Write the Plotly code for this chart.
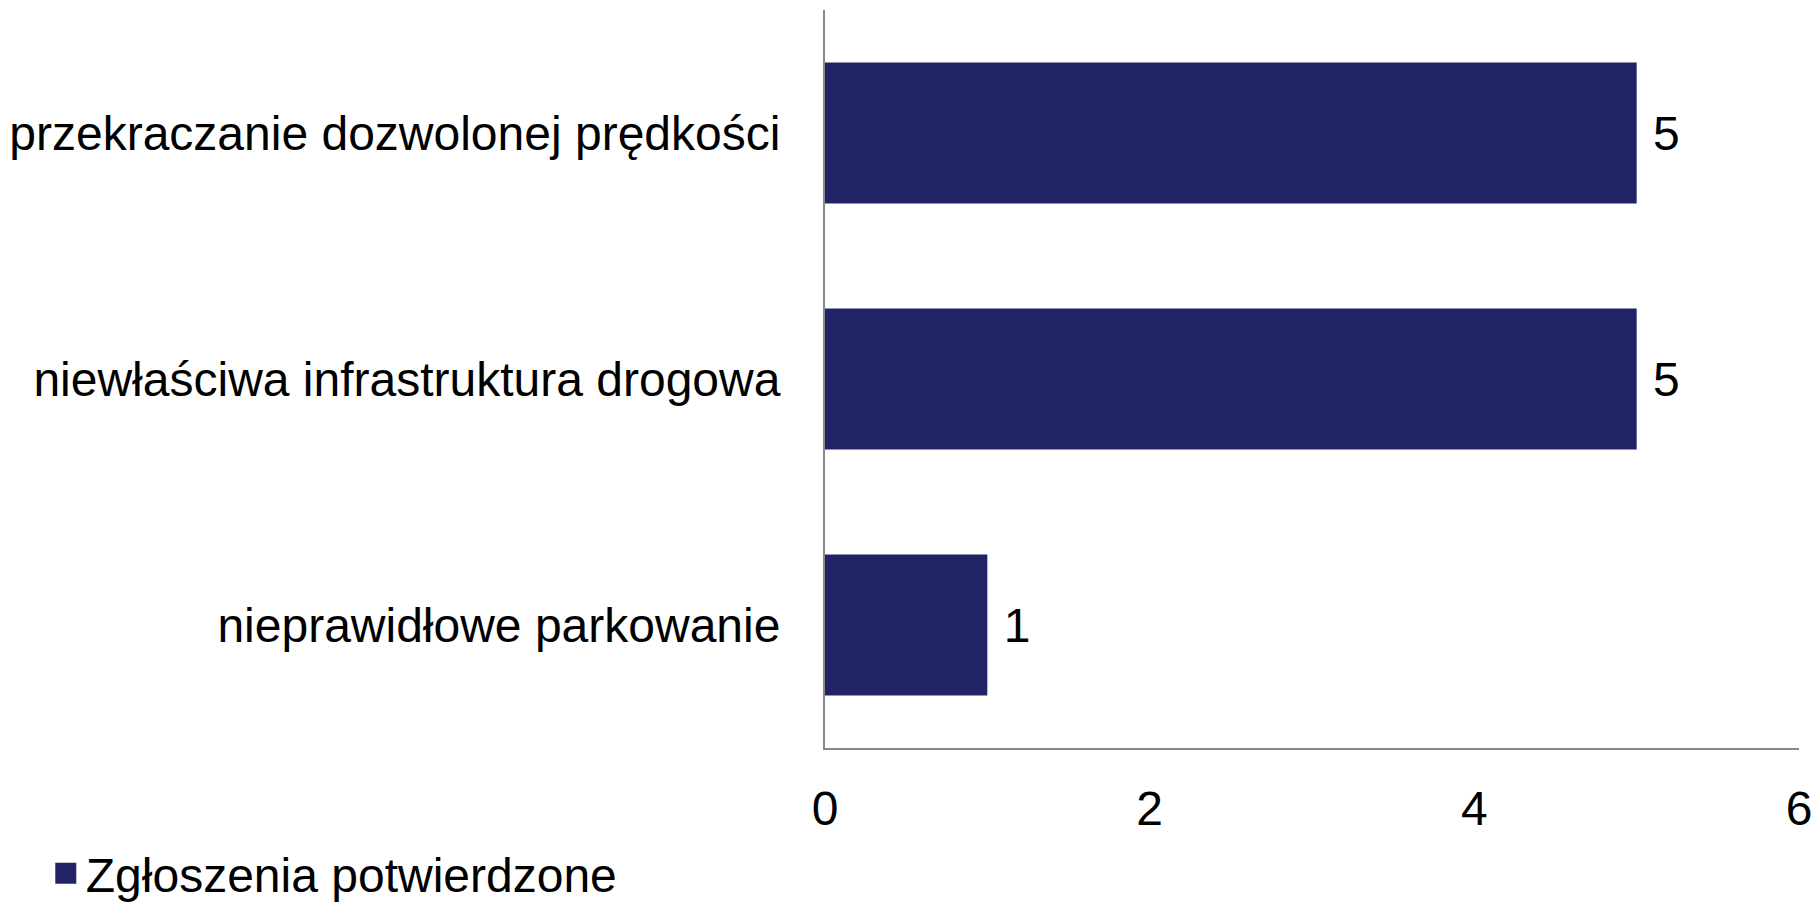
import plotly.graph_objects as go

categories = ["nieprawidłowe parkowanie", "niewłaściwa infrastruktura drogowa", "przekraczanie dozwolonej prędkości"]
values = [1, 5, 5]
series_name = "Zgłoszenia potwierdzone"
x_ticks = [0, 2, 4, 6]

W, H = 1816, 905
L, R, T, B = 825, 17, 10, 157
FONT = "Liberation Sans, Arial, sans-serif"
FS = 48
BAR = "#222266"
AX = "#898989"

fig = go.Figure()
fig.add_trace(go.Bar(
    y=categories, x=values, orientation="h", name=series_name,
    marker=dict(color=BAR, line=dict(width=0)),
    text=values, textposition="outside", cliponaxis=False,
    textfont=dict(family=FONT, size=FS, color="#000000"),
    texttemplate=" %{x}", showlegend=False,
))
# legend entry (larger square symbol than the default bar icon)
fig.add_trace(go.Scatter(
    x=[None], y=[None], mode="markers", name=series_name,
    marker=dict(symbol="square", size=16, color=BAR, line=dict(width=5, color=BAR)),
    showlegend=True, hoverinfo="skip",
))

fig.update_layout(
    width=W, height=H,
    margin=dict(l=L, r=R, t=T, b=B, pad=0, autoexpand=False),
    paper_bgcolor="white", plot_bgcolor="white",
    font=dict(family=FONT, size=FS, color="#000000"),
    bargap=0.427,
    showlegend=True,
    legend=dict(orientation="h", x=-0.800, xanchor="left", y=-0.170, yanchor="middle",
                itemsizing="trace",
                font=dict(family=FONT, size=FS, color="#000000"), bgcolor="rgba(0,0,0,0)"),
    xaxis=dict(range=[0, 6], tickvals=x_ticks, showgrid=False, zeroline=False,
               showline=True, linecolor=AX, linewidth=2, ticks="", automargin=False,
               ticklabelstandoff=17, tickfont=dict(family=FONT, size=FS, color="#000000")),
    yaxis=dict(showgrid=False, zeroline=False, showline=True, linecolor=AX, linewidth=2,
               ticks="", automargin=False, categoryorder="array", categoryarray=categories,
               ticklabelstandoff=33, tickfont=dict(family=FONT, size=FS, color="#000000")),
)

fig.write_html(
    "out.html",
    config={"displayModeBar": False},
    post_script="document.body.style.margin='0';document.body.style.overflow='hidden';",
)
